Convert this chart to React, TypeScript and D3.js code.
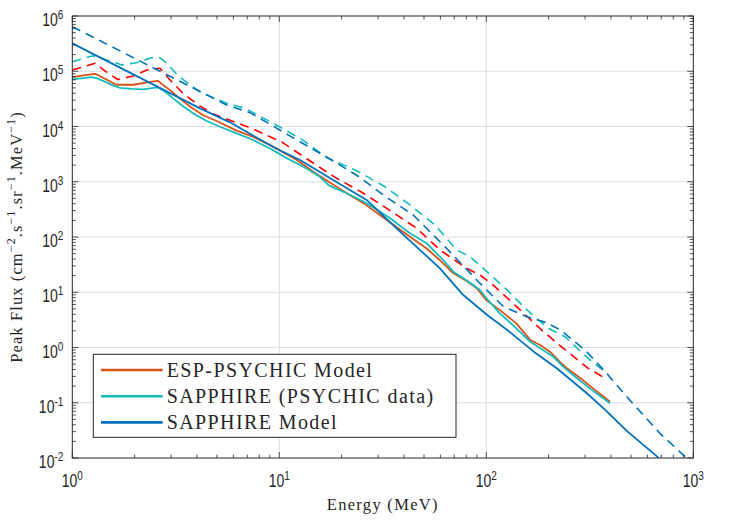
import React from 'react';
import * as d3 from 'd3';

type Pt = [number, number];

// energy (MeV), peak flux
const espModel: Pt[] = [
  [1, 7.8e4], [1.22, 8.8e4], [1.29, 9.0e4], [1.47, 7.0e4], [1.63, 5.7e4], [1.97, 5.7e4],
  [2.42, 6.5e4], [2.6, 6.7e4], [2.75, 5.6e4], [2.96, 4.6e4], [3.31, 3.2e4], [3.7, 2.3e4],
  [4.29, 1.6e4], [4.98, 1.26e4], [6.22, 8.4e3], [7.48, 6.5e3], [9.02, 4.6e3], [12.1, 2.5e3],
  [14.6, 1.52e3], [17.6, 960], [21.2, 620], [25.5, 410], [30.6, 250], [42.8, 101], [51.5, 62],
  [59.7, 38], [69.3, 22], [80.4, 16], [89.9, 11.8], [100, 7.2], [116, 4.8], [140, 2.7],
  [163, 1.37], [182, 1.11], [203, 0.84], [227, 0.55], [245, 0.42], [284, 0.28], [329, 0.18],
  [396, 0.104],
];
const espUpper: Pt[] = [
  [1, 1.05e5], [1.29, 1.39e5], [1.49, 9.2e4], [1.66, 7.1e4], [1.97, 8.2e4], [2.29, 1.05e5],
  [2.65, 1.13e5], [2.96, 7.0e4], [3.38, 4.2e4], [4.06, 2.45e4], [4.8, 1.68e4], [5.57, 1.37e4],
  [7.48, 9.0e3], [10.3, 5.2e3], [13.8, 2.5e3], [18.6, 1.2e3], [25.5, 620], [34.3, 300],
  [46.1, 144], [59.8, 58], [80.4, 27], [93.2, 20.5], [108, 13.5], [140, 5.5], [182, 2.2],
  [235, 0.97], [311, 0.42], [374, 0.28],
];
const psychicData: Pt[] = [
  [1, 7.1e4], [1.24, 7.8e4], [1.31, 7.5e4], [1.41, 6.7e4], [1.58, 5.5e4], [1.7, 5.0e4],
  [1.94, 4.8e4], [2.2, 4.7e4], [2.46, 5.0e4], [2.6, 5.1e4], [2.8, 4.3e4], [3.08, 3.2e4],
  [3.44, 2.3e4], [3.84, 1.73e4], [4.46, 1.26e4], [5.17, 9.9e3], [6.22, 7.5e3], [7.48, 5.7e3],
  [9.02, 4.0e3], [10.9, 2.65e3], [13.1, 1.87e3], [15.7, 1.23e3], [17.3, 870], [18.6, 760],
  [21.2, 620], [25.5, 440], [30.6, 290], [34.3, 218], [42.8, 117], [51.5, 77], [62, 38],
  [69.3, 23.6], [77.4, 17.9], [86.6, 13.5], [93.2, 11], [100, 7.8], [116, 4.2], [140, 2.2],
  [163, 1.27], [182, 0.97], [211, 0.68], [235, 0.45], [273, 0.28], [317, 0.18], [396, 0.098],
];
const psychicUpper: Pt[] = [
  [1, 1.49e5], [1.26, 1.91e5], [1.74, 1.3e5], [2.05, 1.43e5], [2.43, 1.77e5], [2.65, 1.74e5],
  [2.86, 1.39e5], [3.25, 8.2e4], [4.14, 4.2e4], [5.57, 2.63e4], [6.83, 2.13e4], [9.35, 1.14e4],
  [12.8, 5.9e3], [17.2, 2.65e3], [23.7, 1.58e3], [32.4, 810], [42.8, 380], [56.5, 165],
  [72, 58], [83.4, 44], [96.7, 27], [126, 11], [157, 4.8], [199, 2.23], [240, 1.57],
  [317, 0.59], [388, 0.33],
];
const sapphireModel: Pt[] = [
  [1, 3.2e5], [4.14, 2.13e4], [5.78, 1.19e4], [8.69, 4.97e3], [10, 3.76e3], [12.6, 2.48e3],
  [18.2, 1.08e3], [26.4, 468], [38.3, 125], [47.9, 58], [59.7, 27], [77.4, 8.9], [100, 4.0],
  [130, 1.9], [169, 0.85], [219, 0.42], [305, 0.15], [382, 0.07], [477, 0.031], [665, 0.0108],
  [720, 0.008],
];
const sapphireUpper: Pt[] = [
  [1, 6.4e5], [5.57, 2.45e4], [7.22, 1.78e4], [11.3, 6.7e3], [17.9, 2.48e3], [24.5, 1.2e3],
  [31.8, 575], [44.4, 250], [64.4, 62], [89.9, 16.7], [121, 5.5], [157, 3.6], [196, 2.8],
  [227, 2.1], [300, 0.9], [374, 0.37], [485, 0.12], [690, 0.028], [912, 0.0106], [1000, 0.0078],
];

const xTicks = [1, 10, 100, 1000];
const yTicks = [1e-2, 1e-1, 1, 10, 100, 1e3, 1e4, 1e5, 1e6];
const legendLabels = ['ESP-PSYCHIC Model', 'SAPPHIRE (PSYCHIC data)', 'SAPPHIRE Model'];

const ORANGE = '#D95319';
const RED = '#FF0000';
const CYAN = '#12BDBD';
const BLUE = '#0072BD';
const AXIS = '#262626';

const series = [
  { data: espModel, color: ORANGE, dash: false },
  { data: espUpper, color: RED, dash: true },
  { data: psychicData, color: CYAN, dash: false },
  { data: psychicUpper, color: CYAN, dash: true },
  { data: sapphireModel, color: BLUE, dash: false },
  { data: sapphireUpper, color: BLUE, dash: true },
];

const W = 729;
const H = 521;
const left = 72.3, right = 693.3, top = 16, bottom = 458;

const x = d3.scaleLog().domain([1, 1000]).range([left, right]);
const y = d3.scaleLog().domain([1e-2, 1e6]).range([bottom, top]);

const line = d3.line<Pt>().x(d => x(d[0])).y(d => y(d[1]));

// minor ticks 2..9 inside each decade
const minors = (lo: number, hi: number) => {
  const out: number[] = [];
  for (let p = lo; p < hi; p++) for (let k = 2; k <= 9; k++) out.push(k * Math.pow(10, p));
  return out;
};
const xMinor = minors(0, 3);
const yMinor = minors(-2, 6);

const exp = (v: number) => String(Math.round(Math.log10(v)));

const App: React.FC = () => {
  const sans = '"Liberation Sans", Arial, sans-serif';
  const serif = '"Liberation Serif", "Times New Roman", serif';
  const legendRows = [ORANGE, CYAN, BLUE];
  return (
    <svg width={W} height={H} style={{ position: 'absolute', left: 0, top: 0, background: '#fff' }}>
      <defs>
        <clipPath id="plot">
          <rect x={left} y={top} width={right - left} height={bottom - top} />
        </clipPath>
      </defs>
      <rect x={left} y={top} width={right - left} height={bottom - top} fill="#fff" />

      {/* grid */}
      <g stroke="#dedede" strokeWidth={1}>
        {xTicks.slice(1, -1).map(t => (
          <line key={'gx' + t} x1={x(t)} x2={x(t)} y1={top} y2={bottom} />
        ))}
        {yTicks.slice(1, -1).map(t => (
          <line key={'gy' + t} x1={left} x2={right} y1={y(t)} y2={y(t)} />
        ))}
      </g>

      {/* data */}
      <g clipPath="url(#plot)" fill="none" strokeLinejoin="round">
        {series.map((s, i) => (
          <path
            key={i}
            d={line(s.data) || ''}
            stroke={s.color}
            strokeWidth={s.dash ? 1.6 : 1.8}
            strokeDasharray={s.dash ? '9,6' : undefined}
          />
        ))}
      </g>

      {/* ticks */}
      <g stroke={AXIS} strokeWidth={0.8}>
        {xTicks.map(t => (
          <g key={'tx' + t}>
            <line x1={x(t)} x2={x(t)} y1={bottom} y2={bottom - 6} />
            <line x1={x(t)} x2={x(t)} y1={top} y2={top + 6} />
          </g>
        ))}
        {xMinor.map(t => (
          <g key={'mx' + t}>
            <line x1={x(t)} x2={x(t)} y1={bottom} y2={bottom - 3.5} />
            <line x1={x(t)} x2={x(t)} y1={top} y2={top + 3.5} />
          </g>
        ))}
        {yTicks.map(t => (
          <g key={'ty' + t}>
            <line x1={left} x2={left + 6} y1={y(t)} y2={y(t)} />
            <line x1={right} x2={right - 6} y1={y(t)} y2={y(t)} />
          </g>
        ))}
        {yMinor.map(t => (
          <g key={'my' + t}>
            <line x1={left} x2={left + 3.5} y1={y(t)} y2={y(t)} />
            <line x1={right} x2={right - 3.5} y1={y(t)} y2={y(t)} />
          </g>
        ))}
      </g>
      <rect x={left} y={top} width={right - left} height={bottom - top} fill="none" stroke={AXIS} strokeWidth={1} />

      {/* tick labels */}
      <g fontFamily={sans} fill={AXIS}>
        {xTicks.map(t => (
          <text key={'lx' + t} transform={`translate(${x(t)},${bottom + 29}) scale(0.8,1)`} textAnchor="middle" fontSize={17.5}>
            10<tspan fontSize={12.5} dy={-7}>{exp(t)}</tspan>
          </text>
        ))}
        {yTicks.map(t => (
          <text key={'ly' + t} transform={`translate(${left - 9},${y(t) + 10}) scale(0.8,1)`} textAnchor="end" fontSize={17.5}>
            10<tspan fontSize={12.5} dy={-7}>{exp(t)}</tspan>
          </text>
        ))}
      </g>

      {/* axis labels */}
      <text x={(left + right) / 2} y={510} textAnchor="middle" fontFamily={serif} fontSize={16.5} letterSpacing={1.3} fill={AXIS}>
        Energy (MeV)
      </text>
      <text
        transform={`translate(22,${(top + bottom) / 2}) rotate(-90)`}
        textAnchor="middle"
        fontFamily={serif}
        fontSize={16.5}
        letterSpacing={1.1}
        fill={AXIS}
      >
        Peak Flux (cm<tspan fontSize={12} dy={-7}>−2</tspan>
        <tspan dy={7}>.s</tspan><tspan fontSize={12} dy={-7}>−1</tspan>
        <tspan dy={7}>.sr</tspan><tspan fontSize={12} dy={-7}>−1</tspan>
        <tspan dy={7}>.MeV</tspan><tspan fontSize={12} dy={-7}>−1</tspan>
        <tspan dy={7}>)</tspan>
      </text>

      {/* legend */}
      <g>
        <rect x={93.3} y={354.3} width={362.7} height={83} fill="#fff" stroke={AXIS} strokeWidth={1} />
        {legendLabels.map((lab, i) => {
          const ly = 370 + i * 26.2;
          return (
            <g key={lab}>
              <line x1={101} x2={162.7} y1={ly} y2={ly} stroke={legendRows[i]} strokeWidth={2.6} />
              <text x={166.7} y={ly + 6.5} fontFamily={serif} fontSize={20} letterSpacing={1.4} fill={AXIS}>
                {lab}
              </text>
            </g>
          );
        })}
      </g>
    </svg>
  );
};

export default App;
